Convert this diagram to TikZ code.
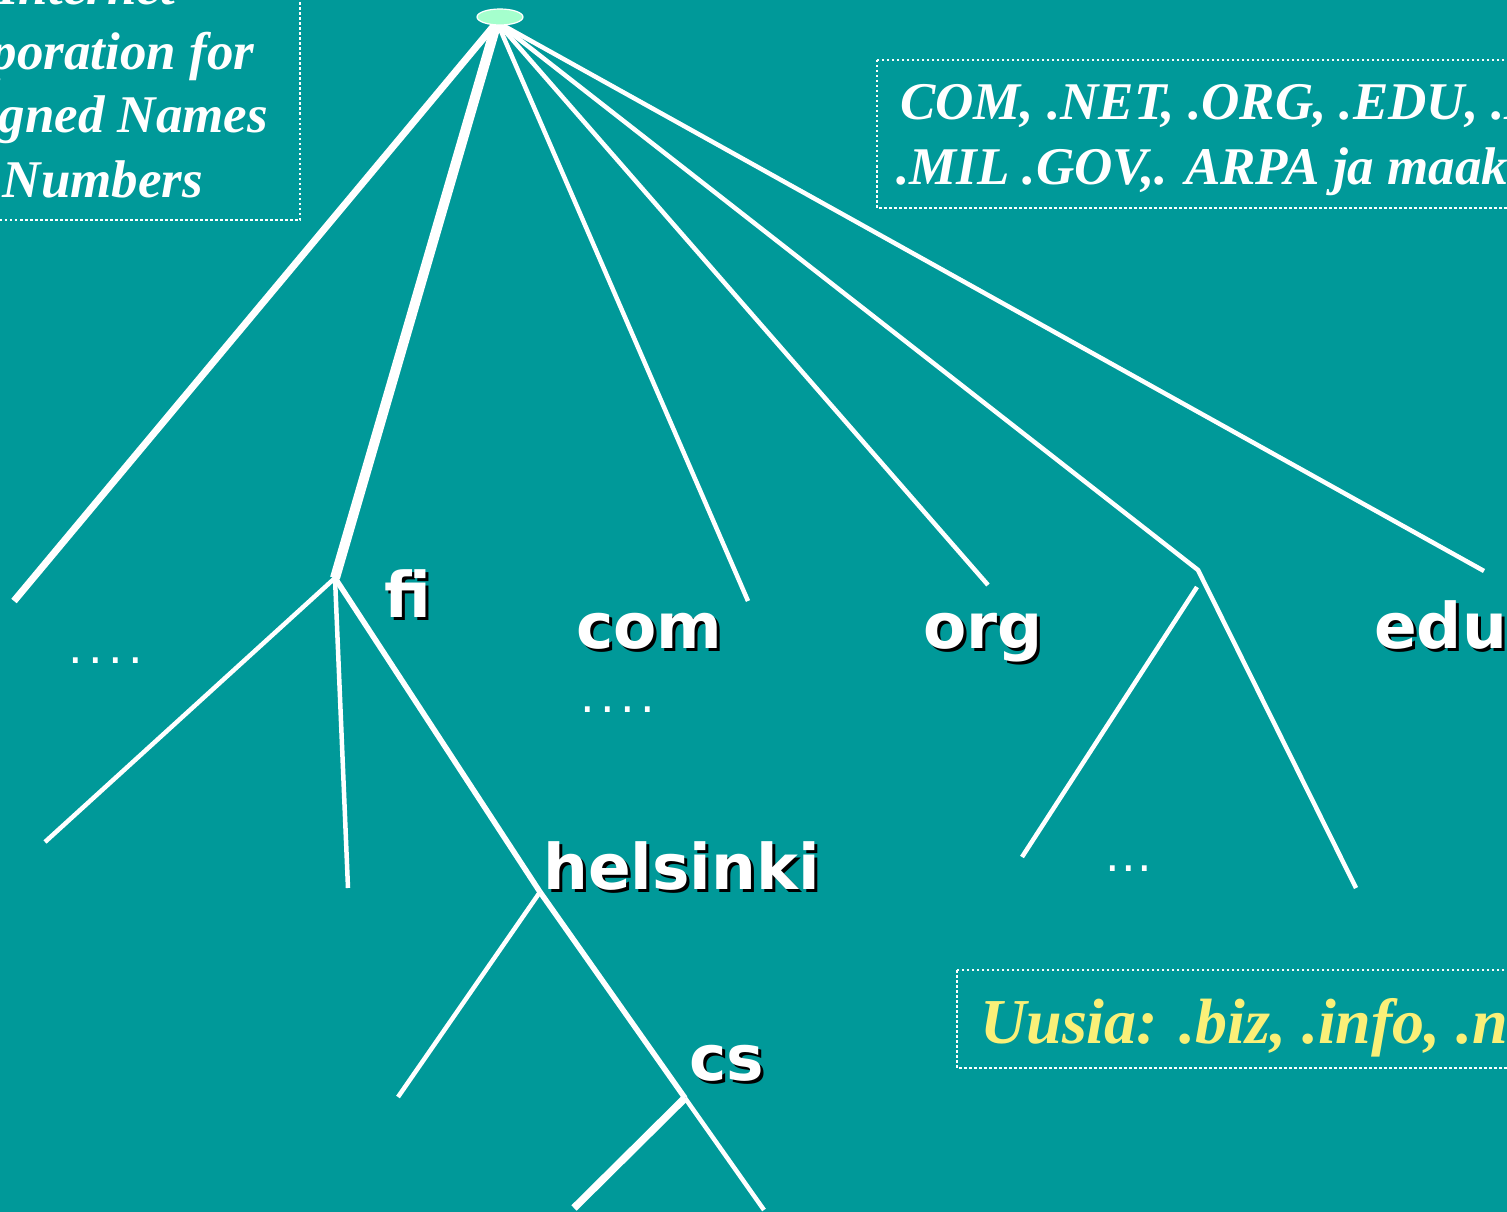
\documentclass[tikz,border=0pt]{standalone}
\usepackage{fontspec}
\setmainfont{Liberation Serif}
\newfontfamily\lblfont{DejaVu Sans}
\usetikzlibrary{shapes.geometric}
\definecolor{bgteal}{RGB}{0,153,153}
\definecolor{rootgreen}{RGB}{165,255,205}
\definecolor{newyellow}{RGB}{250,240,120}
\pgfdeclarelayer{bg}
\pgfsetlayers{bg,main}
\newcommand\dotrow[2]{.\foreach \i in {2,...,#1}{\hspace{#2}.}}
\begin{document}
\begin{tikzpicture}[x=1pt,y=-1pt,
  branch/.style={draw=white,line width=4.5pt},
  lbl/.style={font=\lblfont\bfseries\fontsize{63}{63}\selectfont,text=white,inner sep=0,anchor=base west},
  lblshadow/.style={lbl,text=black},
  dotbox/.style={draw=white,line width=2.5pt,dash pattern=on 2.5pt off 2.5pt},
  boldserif/.style={font=\bfseries\itshape\fontsize{53}{53}\selectfont,text=white,inner sep=0,anchor=base west},
  yellowserif/.style={font=\bfseries\itshape\fontsize{64}{64}\selectfont,text=newyellow,inner sep=0,anchor=base west},
  dotsnode/.style={font=\lblfont\fontsize{46}{46}\selectfont,text=white,inner sep=0,anchor=center}]
\useasboundingbox (0,0) rectangle (1507,1212);

% dotted boxes
\draw[dotbox] (-10,-10) rectangle (300,220);
\draw[dotbox] (877,60) rectangle (1530,208);
\draw[dotbox] (957,970) rectangle (1530,1068);

% box texts
\node[boldserif] (t1) at (-2,5) {Internet};
\node[boldserif] (t2) at (-92,70) {Corporation for};
\node[boldserif] (t3) at (-93,133) {Assigned Names};
\node[boldserif] (t4) at (-93,197) {and Numbers};
\node[boldserif] (g1) at (900,120) {COM, .NET, .ORG, .EDU, .INT,};
\node[boldserif] (g2) at (896,184) {.MIL .GOV,. ARPA ja maakohtaiset};
\node[yellowserif] (n1) at (980,1043) {Uusia: .biz, .info, .name};

% root
\node[ellipse,draw=white,line width=1.2pt,fill=rootgreen,minimum width=46pt,minimum height=16pt,inner sep=0] (root) at (500,17) {};
\coordinate (r) at (497,22);
\coordinate (fij) at (335,578);
\coordinate (hj) at (540,892);
\coordinate (cj) at (685,1098);
\coordinate (ej) at (1198,570);
\coordinate (a1) at (14,601);
\coordinate (a2) at (748,601);
\coordinate (a3) at (988,585);
\coordinate (a4) at (1484,571);
\coordinate (a5) at (1356,888);
\coordinate (b1) at (1197,587);
\coordinate (b2) at (1022,857);
\coordinate (f1) at (45,842);
\coordinate (f2) at (348,888);
\coordinate (h1) at (398,1097);
\coordinate (c1) at (574,1208);
\coordinate (c2) at (764,1210);

\begin{pgfonlayer}{bg}
\fill[bgteal] (0,0) rectangle (1507,1212);
\draw[branch,line width=7pt] (r) -- (a1);
\draw[branch,line width=10pt] (r) -- (fij);
\draw[branch] (r) -- (a2);
\draw[branch] (r) -- (a3);
\draw[branch] (r) -- (ej) -- (a5);
\draw[branch] (r) -- (a4);
\draw[branch] (b1) -- (b2);
\draw[branch] (fij) -- (f1);
\draw[branch] (fij) -- (f2);
\draw[branch,line width=5.5pt] (fij) -- (hj);
\draw[branch] (hj) -- (h1);
\draw[branch,line width=5.5pt] (hj) -- (cj);
\draw[branch,line width=7.5pt] (cj) -- (c1);
\draw[branch] (cj) -- (c2);
\end{pgfonlayer}

% labels with shadow
\node[lblshadow] at (387,620) {fi};
\node[lbl] (fi) at (384,617) {fi};
\node[lblshadow] at (579,651) {com};
\node[lbl] (com) at (576,648) {com};
\node[lblshadow] at (926,651) {org};
\node[lbl] (org) at (923,648) {org};
\node[lblshadow] at (1377,651) {edu};
\node[lbl] (edu) at (1374,648) {edu};
\node[lblshadow] at (546,892) {helsinki};
\node[lbl] (helsinki) at (543,889) {helsinki};
\node[lblshadow] at (692,1083) {cs};
\node[lbl] (cs) at (689,1080) {cs};

% dots
\node[dotsnode] (d1) at (106,661) {\dotrow{4}{5.4pt}};
\node[dotsnode] (d2) at (618,710) {\dotrow{4}{5.4pt}};
\node[dotsnode] (d3) at (1129,869) {\dotrow{3}{1.4pt}};
\end{tikzpicture}
\end{document}
